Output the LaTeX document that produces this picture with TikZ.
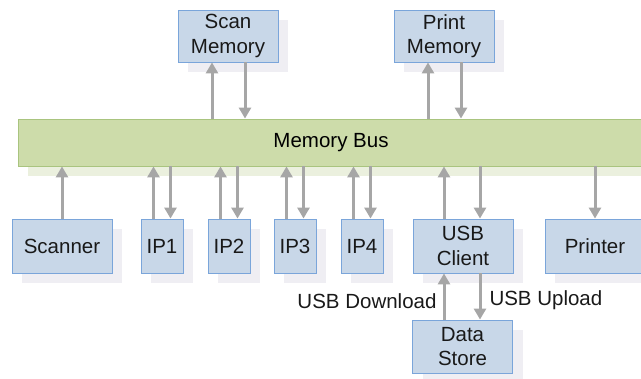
\documentclass[tikz,border=0pt]{standalone}
\usepackage{fontspec}
\setmainfont{Liberation Sans}
\usetikzlibrary{arrows.meta,shadows}
\definecolor{boxfill}{HTML}{C8D7E8}
\definecolor{boxline}{HTML}{7AA5DA}
\definecolor{boxshade}{HTML}{EFEEF3}
\definecolor{busfill}{HTML}{CDDCAA}
\definecolor{busline}{HTML}{A9C47F}
\definecolor{busshade}{HTML}{EBF0DE}
\definecolor{arrgray}{HTML}{A6A6A6}
\tikzset{
  unit/.style={draw=boxline, line width=0.9pt, fill=boxfill, minimum height=54pt,
    inner sep=0pt, align=center, text=black!90,
    font=\fontsize{20.5}{24.5}\selectfont,
    general shadow={fill=boxshade, shadow xshift=10pt, shadow yshift=-10pt}},
  wide/.style={unit, minimum width=100pt},
  narrow/.style={unit, minimum width=42pt},
  busbar/.style={draw=busline, line width=0.9pt, fill=busfill, minimum width=626pt,
    minimum height=47pt, inner sep=0pt, font=\fontsize{20.5}{24.5}\selectfont,
    general shadow={fill=busshade, shadow xshift=10pt, shadow yshift=-10pt}},
  flow/.style={draw=arrgray, line width=3pt, -{Triangle[width=12pt,length=11pt]}},
  tag/.style={font=\fontsize{20.5}{24.5}\selectfont, inner sep=0pt, text=black!90}
}
\begin{document}
\begin{tikzpicture}[x=1pt, y=-1pt]
\useasboundingbox (0,0) rectangle (641,379);
\clip (0,0) rectangle (641,379);

% memories above the bus
\node[wide, minimum height=52pt] (scanmem) at (228,36) {Scan\\Memory};
\node[wide, minimum height=52pt] (printmem) at (444,36) {Print\\Memory};

% the shared bus
\node[busbar] (bus) at (331,142.5) {Memory Bus};

% units below the bus
\node[wide] (scanner) at (62,246) {Scanner};
\node[narrow] (ip1) at (162,246) {IP1};
\node[narrow] (ip2) at (229,246) {IP2};
\node[narrow] (ip3) at (295,246) {IP3};
\node[narrow] (ip4) at (362,246) {IP4};
\node[wide] (usb) at (463,246) {USB\\Client};
\node[wide] (printer) at (595,246) {Printer};
\node[wide, minimum height=53pt] (store) at (462.5,346.5) {Data\\Store};

% memory traffic
\draw[flow] ([xshift=-16pt]scanmem.south |- bus.north) -- ([xshift=-16pt]scanmem.south);
\draw[flow] ([xshift=17pt]scanmem.south) -- ([xshift=17pt]scanmem.south |- bus.north);
\draw[flow] ([xshift=-16pt]printmem.south |- bus.north) -- ([xshift=-16pt]printmem.south);
\draw[flow] ([xshift=17pt]printmem.south) -- ([xshift=17pt]printmem.south |- bus.north);

% unit traffic
\draw[flow] (scanner.north) -- (scanner.north |- bus.south);
\foreach \u in {ip1,ip2,ip3,ip4}{
  \draw[flow] ([xshift=-8.5pt]\u.north) -- ([xshift=-8.5pt]\u.north |- bus.south);
  \draw[flow] ([xshift=8.5pt]\u.north |- bus.south) -- ([xshift=8.5pt]\u.north);
}
\draw[flow] ([xshift=-19pt]usb.north) -- ([xshift=-19pt]usb.north |- bus.south);
\draw[flow] ([xshift=17pt]usb.north |- bus.south) -- ([xshift=17pt]usb.north);
\draw[flow] (printer.north |- bus.south) -- (printer.north);

% USB transfers
\draw[flow] ([xshift=-19pt]store.north -| usb.center) -- ([xshift=-19pt]usb.south)
  node[tag, midway, anchor=east, xshift=-6pt, yshift=-5pt] (dl) {USB Download};
\draw[flow] ([xshift=17pt]usb.south) -- ([xshift=17pt]store.north -| usb.center)
  node[tag, midway, anchor=west, xshift=8pt, yshift=-4pt] (ul) {USB Upload};
\end{tikzpicture}
\end{document}
